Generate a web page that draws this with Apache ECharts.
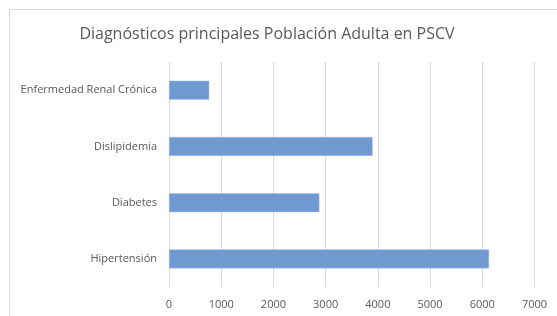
<!DOCTYPE html>
<html><head><meta charset="utf-8">
<script src="https://cdn.jsdelivr.net/npm/echarts@6/dist/echarts.min.js"></script>
<style>html,body{margin:0;padding:0;background:#fff}#c{width:557px;height:316px}</style>
</head><body><div id="c"></div>
<script>
const title = 'Diagnósticos principales Población Adulta en PSCV';
const categories = ['Hipertensión', 'Diabetes', 'Dislipidemia', 'Enfermedad Renal Crónica'];
const values = [6130, 2880, 3900, 770];
const xTicks = [0, 1000, 2000, 3000, 4000, 5000, 6000, 7000];

const chart = echarts.init(document.getElementById('c'));
chart.setOption({
  animation: false,
  backgroundColor: '#fff',
  graphic: [{
    type: 'rect', shape: {x: 9.5, y: 9.5, width: 600, height: 400},
    style: {fill: 'none', stroke: '#d9d9d9', lineWidth: 1}, silent: true
  }],
  title: {
    text: title, left: 262, top: 21, textAlign: 'center',
    textStyle: {fontFamily: 'Open Sans', fontWeight: 'normal', fontSize: 16, color: '#595959'}
  },
  grid: {left: 169, right: 22.5, top: 62, bottom: 29, containLabel: false},
  xAxis: {
    type: 'value', min: xTicks[0], max: xTicks[xTicks.length - 1], interval: 1000,
    axisLine: {show: false},
    axisTick: {show: false},
    splitLine: {show: true, lineStyle: {color: '#d9d9d9', width: 1}},
    axisLabel: {fontFamily: 'Open Sans', fontSize: 11, color: '#595959', margin: 12,
      formatter: v => String(v)}
  },
  yAxis: {
    type: 'category', data: categories,
    axisLine: {show: false}, axisTick: {show: false},
    axisLabel: {fontFamily: 'Open Sans', fontSize: 11, color: '#595959', margin: 12}
  },
  series: [{
    type: 'bar', data: values, barWidth: 19,
    itemStyle: {color: '#7099d1', borderColor: '#a6c0e6', borderWidth: 0.5}
  }]
});
</script></body></html>
